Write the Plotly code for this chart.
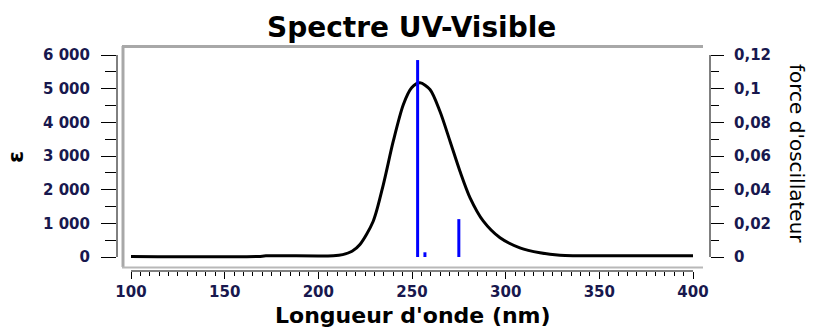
import plotly.graph_objects as go

# ---- data ----
wavelength = [100, 168, 172, 208, 213, 218, 222.2, 229.3, 234.7, 240.0, 245.4, 249.8, 254.3,
              259.6, 264.9, 270.3, 275.6, 281.0, 288.1, 297.0, 307.6, 318.3, 329, 360, 400]
epsilon = [15, 15, 35, 38, 70, 170, 371, 1063, 2153, 3440, 4530, 5025, 5173,
           4975, 4330, 3440, 2548, 1758, 1063, 570, 273, 125, 50, 35, 35]

stick_wl = [253.0, 256.9, 275.0]
stick_f = [0.117, 0.0028, 0.0225]

y_ticks = [0, 1000, 2000, 3000, 4000, 5000, 6000]
y_labels = ["0", "1 000", "2 000", "3 000", "4 000", "5 000", "6 000"]
y2_ticks = [0, 0.02, 0.04, 0.06, 0.08, 0.1, 0.12]
y2_labels = ["0", "0,02", "0,04", "0,06", "0,08", "0,1", "0,12"]
x_ticks = [100, 150, 200, 250, 300, 350, 400]

W, H = 813, 327
L, R, T, B = 117, 710, 46, 271  # plot area in px


def px(x):
    return (x - L) / (R - L)


def py(y):
    return (B - y) / (B - T)


sx, sy = [], []
for w, f in zip(stick_wl, stick_f):
    sx += [w, w, None]
    sy += [0, f, None]

tickfont = dict(family="DejaVu Sans", size=15, color="#18184e", weight="bold")

fig = go.Figure()
fig.add_trace(go.Scatter(x=wavelength, y=epsilon, mode="lines",
                         line=dict(color="black", width=3, shape="spline", smoothing=0.8),
                         hoverinfo="skip", showlegend=False))
fig.add_trace(go.Scatter(x=sx, y=sy, mode="lines", yaxis="y2",
                         line=dict(color="#0000ff", width=3),
                         hoverinfo="skip", showlegend=False))

# scale: 100nm->131px, 400nm->693px ; 0->257px, 6000->55px
xs = 562 / 300
ys = 202 / 6000
ys2 = 202 / 0.12
x_range = [100 - (131 - L) / xs, 400 + (R - 693) / xs]
y_range = [-(B - 257) / ys, 6000 + (55 - T) / ys]
y2_range = [-(B - 257) / ys2, 0.12 + (55 - T) / ys2]

fig.update_layout(
    width=W, height=H,
    margin=dict(l=L, r=W - R, t=T, b=H - B, pad=0),
    paper_bgcolor="white", plot_bgcolor="white",
    xaxis=dict(range=x_range, showgrid=False, zeroline=False, showline=False,
               tickvals=x_ticks, ticks="outside", ticklen=7, tickcolor="black", tickwidth=1,
               tickfont=tickfont, ticklabelstandoff=0,
               minor=dict(tickvals=list(range(100, 401, 5)), ticks="outside", ticklen=4,
                          tickcolor="black", showgrid=False)),
    yaxis=dict(range=y_range, showgrid=False, zeroline=False, showline=False,
               tickvals=y_ticks, ticktext=y_labels, ticks="outside", ticklen=15,
               tickcolor="black", tickwidth=1, tickfont=tickfont, ticklabelstandoff=8,
               minor=dict(tickvals=list(range(500, 6000, 1000)), ticks="outside", ticklen=11,
                          tickcolor="black", showgrid=False)),
    yaxis2=dict(range=y2_range, overlaying="y", side="right", showgrid=False, zeroline=False,
                showline=False, tickvals=y2_ticks, ticktext=y2_labels, ticks="outside",
                ticklen=13, tickcolor="black", tickwidth=1, tickfont=tickfont,
                ticklabelstandoff=7,
                minor=dict(tickvals=[0.01, 0.03, 0.05, 0.07, 0.09, 0.11], ticks="outside",
                           ticklen=8, tickcolor="black", showgrid=False)),
    shapes=[
        # axis lines
        dict(type="line", xref="x", yref="paper", x0=100, x1=400, y0=0, y1=0,
             line=dict(color="black", width=1)),
        dict(type="line", xref="paper", yref="y", x0=0, x1=0, y0=0, y1=6000,
             line=dict(color="black", width=1)),
        dict(type="line", xref="paper", yref="y2", x0=1, x1=1, y0=0, y1=0.12,
             line=dict(color="black", width=1)),
        # grey frame
        dict(type="line", xref="paper", yref="paper", x0=px(123), x1=px(123), y0=py(267), y1=py(46),
             line=dict(color="#a8a8a8", width=3)),
        dict(type="line", xref="paper", yref="paper", x0=px(122), x1=px(703), y0=py(46.5), y1=py(46.5),
             line=dict(color="#a8a8a8", width=3)),
        dict(type="line", xref="paper", yref="paper", x0=px(122), x1=px(703), y0=py(267.5), y1=py(267.5),
             line=dict(color="#b8b8b8", width=2)),
    ],
    annotations=[
        dict(text="<b>Spectre UV-Visible</b>", xref="paper", yref="paper", x=px(411), y=py(28),
             xanchor="center", yanchor="middle",
             showarrow=False, font=dict(family="DejaVu Sans", size=28, color="black")),
        dict(text="<b>Longueur d'onde (nm)</b>", xref="paper", yref="paper", x=px(413), y=py(315),
             xanchor="center", yanchor="middle",
             showarrow=False, font=dict(family="DejaVu Sans", size=22, color="black")),
        dict(text="<b>ε</b>", xref="paper", yref="paper", x=px(15), y=py(157), textangle=-90,
             xanchor="center", yanchor="middle",
             showarrow=False, font=dict(family="DejaVu Sans", size=22, color="black")),
        dict(text="force d'oscillateur", xref="paper", yref="paper", x=px(797), y=py(153),
             xanchor="center", yanchor="middle",
             textangle=90, showarrow=False,
             font=dict(family="DejaVu Sans", size=20, color="black")),
    ],
)

fig.write_html("out.html")
